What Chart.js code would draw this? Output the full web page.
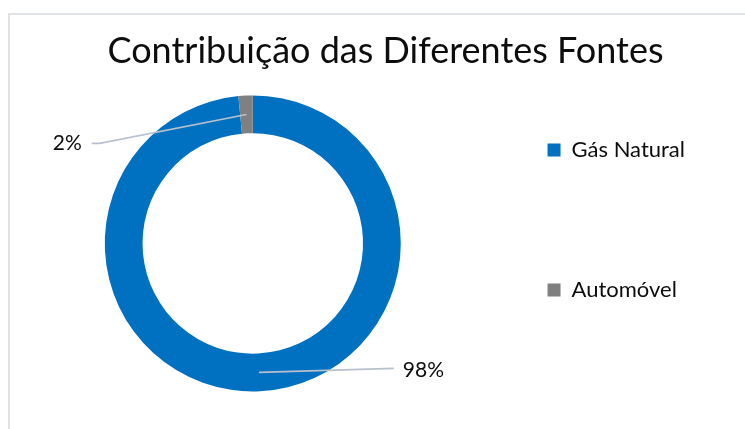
<!DOCTYPE html>
<html><head><meta charset="utf-8">
<script src="https://cdn.jsdelivr.net/npm/chart.js@4/dist/chart.umd.min.js"></script>
<style>
html,body{margin:0;padding:0;background:#fff;overflow:hidden;}
#frame{position:absolute;left:8px;top:13px;width:800px;height:500px;border-top:2px solid #DFE3E8;border-left:2px solid #DFE3E8;}
#wrap{position:absolute;left:0;top:0;width:745px;height:429px;}
</style></head><body>
<div id="frame"></div>
<div id="wrap"><canvas id="c"></canvas></div>
<script>
const chartTitle = 'Contribuição das Diferentes Fontes';
const categories = ['Gás Natural', 'Automóvel'];
const shares = [98.45, 1.55];
const sliceColors = ['#0070C0', '#808080'];

const FONT = 'Lato, "Noto Sans", sans-serif';

const leaderLabels = {
  id: 'leaderLabels',
  afterDatasetsDraw(chart, args, opts) {
    const meta = chart.getDatasetMeta(0);
    const ctx = chart.ctx;
    const total = shares.reduce((a, b) => a + b, 0);
    meta.data.forEach((arc, i) => {
      const p = arc.getProps(['x', 'y', 'startAngle', 'endAngle', 'innerRadius', 'outerRadius'], true);
      const mid = (p.startAngle + p.endAngle) / 2;
      const r = (p.innerRadius + p.outerRadius) / 2;
      const ax = p.x + Math.cos(mid) * r, ay = p.y + Math.sin(mid) * r;
      const pl = opts.places[i];
      ctx.save();
      ctx.strokeStyle = opts.lineColor;
      ctx.lineWidth = opts.lineWidth;
      ctx.beginPath();
      ctx.moveTo(ax, ay);
      pl.path.forEach(pt => ctx.lineTo(p.x + pt[0], p.y + pt[1]));
      ctx.stroke();
      ctx.fillStyle = opts.color;
      ctx.font = opts.font;
      ctx.textBaseline = 'middle';
      ctx.textAlign = pl.align;
      ctx.fillText(Math.round(shares[i] / total * 100) + '%', p.x + pl.text[0], p.y + pl.text[1]);
      ctx.restore();
    });
  }
};

new Chart(document.getElementById('c'), {
  type: 'doughnut',
  data: {
    labels: categories,
    datasets: [{
      data: shares,
      backgroundColor: sliceColors,
      borderWidth: 0,
      hoverOffset: 0
    }]
  },
  options: {
    responsive: true,
    maintainAspectRatio: false,
    animation: false,
    devicePixelRatio: 1,
    radius: 148,
    cutout: '74.5%',
    layout: { padding: { left: 76, right: 50, top: 19, bottom: 8 } },
    plugins: {
      tooltip: { enabled: false },
      title: {
        display: true,
        text: chartTitle,
        color: '#0D0D0D',
        font: { family: FONT, size: 36, weight: 'normal', lineHeight: 0.8 },
        padding: { top: 18, bottom: 0 }
      },
      legend: {
        position: 'right',
        align: 'center',
        labels: {
          boxWidth: 13,
          boxHeight: 13,
          padding: 118,
          color: '#0D0D0D',
          font: { family: FONT, size: 22 }
        }
      },
      leaderLabels: {
        lineColor: '#B8C1CE',
        lineWidth: 1.6,
        color: '#0D0D0D',
        font: '21px ' + FONT,
        places: [
          { path: [[141, 125]], text: [150, 127], align: 'left' },
          { path: [[-153, -100], [-161, -100]], text: [-171, -100], align: 'right' }
        ]
      }
    }
  },
  plugins: [leaderLabels]
});
</script>
</body></html>
